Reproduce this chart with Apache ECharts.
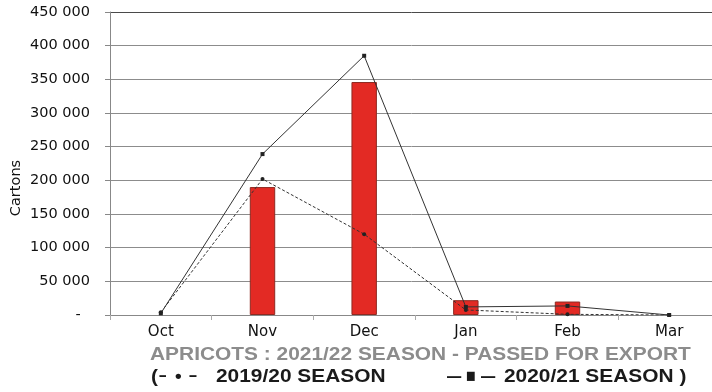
<!DOCTYPE html>
<html><head><meta charset="utf-8">
<script src="https://cdn.jsdelivr.net/npm/echarts@6/dist/echarts.min.js"></script>
<style>html,body{margin:0;padding:0;background:#fff}#c{width:712px;height:392px}</style>
</head><body><div id="c"></div>
<script>
var months = ['Oct', 'Nov', 'Dec', 'Jan', 'Feb', 'Mar'];
var season2122 = [null, 190000, 346000, 22000, 20000, null];
var season1920 = [4000, 202000, 120000, 7500, 1000, 0];
var season2021 = [2500, 239000, 385000, 12000, 13500, 0];
var yTicks = [0, 50000, 100000, 150000, 200000, 250000, 300000, 350000, 400000, 450000];
var titleText = 'APRICOTS : 2021/22 SEASON - PASSED FOR EXPORT';
var legendA = '2019/20 SEASON';
var legendB = '2020/21 SEASON )';

var chart = echarts.init(document.getElementById('c'));
var font = '"DejaVu Sans", sans-serif';
var bold = '"Liberation Sans", Arial, sans-serif';
function txt(x, y, s, color, sx) {
  return {type: 'text', x: x, y: y, scaleX: sx || 1.1, z: 10,
    style: {text: s, fill: color, font: 'bold 19px ' + bold, textVerticalAlign: 'top'}};
}
var ink = '#1a1a1a';
var splitColors = yTicks.map(function (t, i) { return i === yTicks.length - 1 ? '#4a4a4a' : '#8c8c8c'; });
chart.setOption({
  animation: false,
  graphic: [
    txt(150, 345, titleText, '#8c8c8c'),
    txt(151, 367, '(', ink),
    txt(159, 366, '\u2013', ink, 0.7),
    txt(175, 367, '\u2022', ink, 1.0),
    txt(189, 366, '\u2013', ink, 0.75),
    txt(216, 367, legendA, ink),
    txt(447, 367, '\u2014', ink, 0.75),
    txt(466, 367, '\u25A0', ink, 0.85),
    txt(481, 367, '\u2014', ink, 0.75),
    txt(504, 367, legendB, ink)
  ],
  grid: {left: 110, right: -8, top: 12, bottom: 77, outerBoundsMode: 'none', containLabel: false},
  xAxis: {
    type: 'category', data: months,
    axisLine: {lineStyle: {color: '#888', width: 1}},
    axisTick: {show: true, length: 5, lineStyle: {color: '#aaa'}},
    axisLabel: {color: '#111', fontSize: 15, fontFamily: font, margin: 10}
  },
  yAxis: {
    type: 'value', min: yTicks[0], max: yTicks[yTicks.length - 1], interval: 50000,
    name: 'Cartons', nameLocation: 'middle', nameGap: 86, nameRotate: 90, nameMoveOverlap: false,
    nameTextStyle: {color: '#111', fontSize: 14.5, fontFamily: font, padding: [0, 49, 0, 0]},
    axisLine: {show: true, lineStyle: {color: '#888'}},
    axisTick: {show: true, length: 5, lineStyle: {color: '#888'}},
    splitLine: {lineStyle: {color: splitColors, width: 1}},
    axisLabel: {
      color: '#111', fontSize: 14.5, fontFamily: font, margin: 20,
      formatter: function (v) { return v === 0 ? '-  ' : String(v).replace(/\B(?=(\d{3})+(?!\d))/g, ' '); }
    }
  },
  series: [
    {name: '2021/22', type: 'bar', data: season2122, barWidth: '25%',
     itemStyle: {color: '#e32a24', borderColor: '#8e2a22', borderWidth: 1}},
    {name: '2019/20', type: 'line', data: season1920, symbol: 'circle', symbolSize: 4,
     lineStyle: {color: '#333', width: 1, type: [3, 2]}, itemStyle: {color: '#222'}},
    {name: '2020/21', type: 'line', data: season2021, symbol: 'rect', symbolSize: 4,
     lineStyle: {color: '#333', width: 1}, itemStyle: {color: '#222'}}
  ]
});
</script></body></html>
